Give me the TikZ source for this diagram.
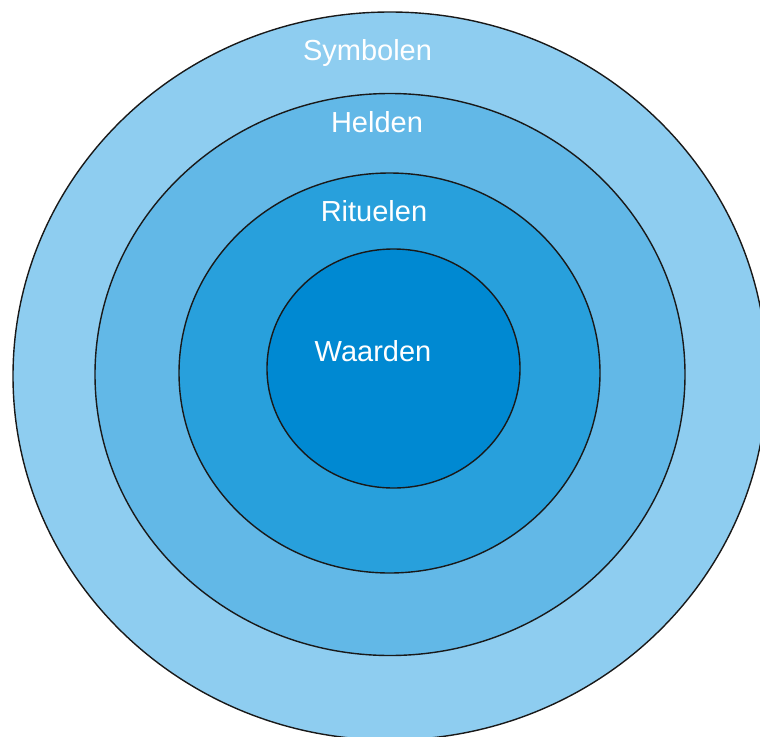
\documentclass[tikz,border=0pt]{standalone}
\usepackage{fontspec}
\setmainfont{Liberation Sans}
\definecolor{cSym}{RGB}{142,205,240}
\definecolor{cHel}{RGB}{98,184,231}
\definecolor{cRit}{RGB}{40,160,220}
\definecolor{cWaa}{RGB}{0,137,210}
\tikzset{
  ring/.style={draw=black!90, line width=1.4pt},
  lbl/.style={text=white, font=\fontsize{29}{29}\selectfont, anchor=base, inner sep=0pt}
}
\begin{document}
\begin{tikzpicture}[x=1pt,y=-1pt]
\useasboundingbox (0,0) rectangle (760,736);
\begin{scope}
\clip (0,0) rectangle (760,736);
\draw[ring, fill=cSym] (390,376) ellipse [x radius=377, y radius=364];
\draw[ring, fill=cHel] (390,374.5) ellipse [x radius=295, y radius=281];
\draw[ring, fill=cRit] (389.5,373) ellipse [x radius=210.5, y radius=200];
\draw[ring, fill=cWaa] (393.5,368.5) ellipse [x radius=126.5, y radius=119.5];
\end{scope}
\node[lbl] (sym) at (367.5,60) {Symbolen};
\node[lbl] (hel) at (377,132) {Helden};
\node[lbl] (rit) at (374,221) {Rituelen};
\node[lbl] (waa) at (373,361) {Waarden};
\end{tikzpicture}
\end{document}
